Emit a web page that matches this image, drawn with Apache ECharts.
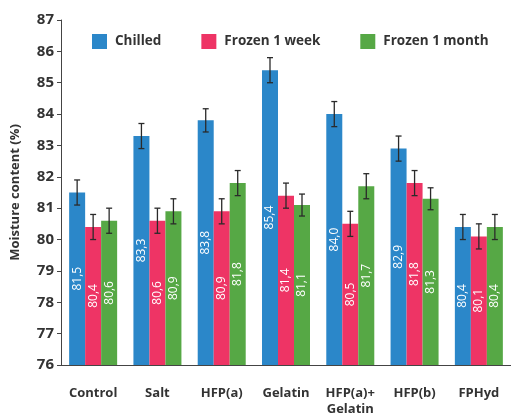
<!DOCTYPE html>
<html><head><meta charset="utf-8">
<script src="https://cdn.jsdelivr.net/npm/echarts@6/dist/echarts.min.js"></script>
<style>html,body{margin:0;padding:0;background:#fff}#c{width:511px;height:417px}</style>
</head><body><div id="c"></div>
<script>
var categories = ['Control', 'Salt', 'HFP(a)', 'Gelatin', 'HFP(a)+\nGelatin', 'HFP(b)', 'FPHyd'];
var chilled = [81.5, 83.3, 83.8, 85.4, 84.0, 82.9, 80.4];
var frozenWeek = [80.4, 80.6, 80.9, 81.4, 80.5, 81.8, 80.1];
var frozenMonth = [80.6, 80.9, 81.8, 81.1, 81.7, 81.3, 80.4];
var chilledErr = [0.4, 0.4, 0.37, 0.4, 0.4, 0.4, 0.4];
var frozenWeekErr = [0.4, 0.4, 0.4, 0.4, 0.4, 0.4, 0.4];
var frozenMonthErr = [0.4, 0.4, 0.4, 0.35, 0.4, 0.35, 0.4];
var seriesNames = ['Chilled', 'Frozen 1 week', 'Frozen 1 month'];
var colors = ['#2b87c9', '#ee3465', '#56a845'];

var FONT = '"Open Sans", "Noto Sans", sans-serif';
var chart = echarts.init(document.getElementById('c'), null, {renderer: 'canvas'});
var values = [chilled, frozenWeek, frozenMonth];
var errs = [chilledErr, frozenWeekErr, frozenMonthErr];
var BW = 16;

function fmt(v) { return v.toFixed(1).replace('.', ','); }

var series = [];
values.forEach(function (vals, s) {
  series.push({
    name: seriesNames[s], type: 'bar', data: vals, barWidth: BW, barGap: '0%',
    itemStyle: {color: colors[s]},
    label: {
      show: true, position: 'inside', rotate: 90, offset: [12, 0],
      color: '#fff', fontFamily: FONT, fontSize: 12,
      formatter: function (p) { return fmt(p.value); }
    },
    labelLayout: {hideOverlap: false}
  });
});
values.forEach(function (vals, s) {
  series.push({
    type: 'custom', name: seriesNames[s] + ' err', z: 10,
    data: vals.map(function (v, i) { return [i, v, errs[s][i]]; }),
    renderItem: function (params, api) {
      var i = api.value(0), v = api.value(1), e = api.value(2);
      var c = api.coord([i, v]);
      var x = c[0] + (s - 1) * BW;
      var top = api.coord([i, v + e])[1];
      var bot = api.coord([i, v - e])[1];
      var st = {stroke: '#2a2a2a', lineWidth: 1.3};
      return {type: 'group', children: [
        {type: 'line', shape: {x1: x, y1: top, x2: x, y2: bot}, style: st},
        {type: 'line', shape: {x1: x - 3, y1: top, x2: x + 3, y2: top}, style: st},
        {type: 'line', shape: {x1: x - 3, y1: bot, x2: x + 3, y2: bot}, style: st}
      ]};
    }
  });
});

chart.setOption({
  animation: false,
  legend: {
    data: seriesNames, top: 29, left: 87, itemWidth: 15, itemHeight: 15, itemGap: 40,
    icon: 'rect',
    textStyle: {fontFamily: FONT, fontSize: 13.5, fontWeight: 'bold', color: '#333', padding: [0, 0, 0, 3]}
  },
  grid: {left: 61, right: -3, top: 20, bottom: 51},
  xAxis: {
    type: 'category', data: categories,
    axisLine: {lineStyle: {color: '#444', width: 1}},
    axisTick: {show: false},
    axisLabel: {fontFamily: FONT, fontSize: 13, fontWeight: 'bold', color: '#333', margin: 20, lineHeight: 16, interval: 0}
  },
  yAxis: {
    type: 'value', min: 76, max: 87, interval: 1,
    name: 'Moisture content (%)', nameLocation: 'middle', nameGap: 39,
    nameTextStyle: {fontFamily: FONT, fontSize: 13, fontWeight: 'bold', color: '#333'},
    splitLine: {show: false},
    axisLine: {show: true, lineStyle: {color: '#444', width: 1}},
    axisTick: {show: true, length: 4, lineStyle: {color: '#444'}},
    axisLabel: {fontFamily: FONT, fontSize: 15, fontWeight: 'bold', color: '#333', margin: 7}
  },
  series: series
});
</script></body></html>
